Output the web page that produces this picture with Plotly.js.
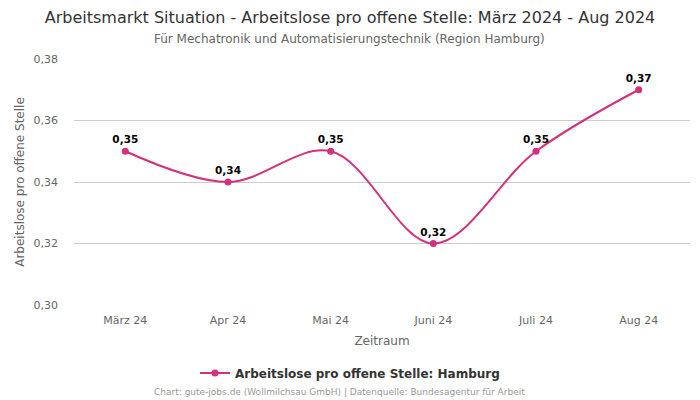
<!DOCTYPE html>
<html>
<head>
<meta charset="utf-8">
<script src="https://cdn.plot.ly/plotly-3.0.1.min.js"></script>
<style>html,body{margin:0;padding:0;background:#fff;}#chart{width:700px;height:400px;}</style>
</head>
<body>
<div id="chart"></div>
<script>
var categories = ["März 24", "Apr 24", "Mai 24", "Juni 24", "Juli 24", "Aug 24"];
var values = [0.35, 0.34, 0.35, 0.32, 0.35, 0.37];
var labels = ["0,35", "0,34", "0,35", "0,32", "0,35", "0,37"];
var seriesName = "Arbeitslose pro offene Stelle: Hamburg";
var yTicks = [0.30, 0.32, 0.34, 0.36, 0.38];

var color = "#d4307c";
var font = "DejaVu Sans, sans-serif";

var trace = {
  x: categories,
  y: values,
  type: "scatter",
  mode: "lines+markers+text",
  name: seriesName,
  line: {color: color, width: 2, shape: "spline", smoothing: 1},
  marker: {color: color, size: 7},
  text: labels,
  textposition: "top center",
  textfont: {family: font, size: 10.5, color: "#000", weight: "bold"},
  cliponaxis: false,
  hoverinfo: "x+y"
};

var L = 74, W = 616, T = 59, H = 246;
function px(x) { return (x - L) / W; }
function py(y) { return 1 - (y - T) / H; }

var layout = {
  width: 700, height: 400,
  separators: ",.",
  margin: {l: L, r: 700 - L - W, t: T, b: 400 - T - H},
  paper_bgcolor: "#fff", plot_bgcolor: "#fff",
  font: {family: font, color: "#666"},
  title: {text: "Arbeitsmarkt Situation - Arbeitslose pro offene Stelle: März 2024 - Aug 2024",
          font: {family: font, size: 16, color: "#333"}, x: 0.5, xanchor: "center", y: 0.957, yanchor: "middle"},
  xaxis: {
    type: "category", range: [-0.5, 5.5],
    showgrid: false, zeroline: false, showline: false,
    ticks: "", ticklabelstandoff: 7, tickfont: {size: 11, color: "#666"},
    title: {text: "Zeitraum", font: {size: 12, color: "#666"}, standoff: 10}
  },
  yaxis: {
    range: [0.30, 0.38], tickvals: yTicks, tickformat: ".2f",
    showgrid: true, gridcolor: "#cccccc", gridwidth: 1, zeroline: false, showline: false,
    ticks: "", ticklen: 0, ticklabelstandoff: 15, tickfont: {size: 11, color: "#666"},
    title: {text: "Arbeitslose pro offene Stelle", font: {size: 12, color: "#666"}, standoff: 6}
  },
  showlegend: true,
  legend: {orientation: "h", x: px(350), xanchor: "center", y: py(373), yanchor: "middle",
           itemwidth: 30, font: {size: 12, color: "#333", weight: "bold"}},
  annotations: [
    {text: "Für Mechatronik und Automatisierungstechnik (Region Hamburg)", xref: "paper", yref: "paper",
     x: px(349), xanchor: "center", y: py(39), yanchor: "middle", showarrow: false,
     font: {family: font, size: 12, color: "#666"}},
    {text: "Chart: gute-jobs.de (Wollmilchsau GmbH) | Datenquelle: Bundesagentur für Arbeit", xref: "paper", yref: "paper",
     x: px(339.5), xanchor: "center", y: py(392), yanchor: "middle", showarrow: false,
     font: {family: font, size: 9, color: "#999"}}
  ]
};

Plotly.newPlot("chart", [trace], layout, {displayModeBar: false, staticPlot: true});
</script>
</body>
</html>
